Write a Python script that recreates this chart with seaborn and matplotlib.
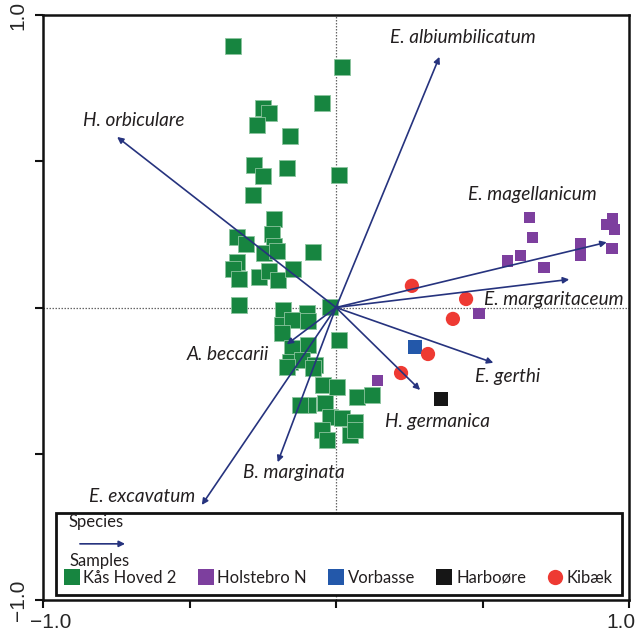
import matplotlib
matplotlib.use("Agg")
import matplotlib.pyplot as plt
import matplotlib.transforms as mtransforms
from matplotlib.lines import Line2D
from matplotlib.patches import Rectangle
import pandas as pd
import seaborn as sns

# ---- sample scores (axis 1, axis 2) per site ----
kas_x = [-0.352, 0.020, -0.048, -0.249, -0.229, -0.270, -0.157, -0.280, -0.167, -0.249,
         0.010, -0.283, -0.212, -0.338, -0.307, -0.218, -0.212, -0.246, -0.201, -0.078,
         -0.338, -0.352, -0.331, -0.263, -0.229, -0.198, -0.147, -0.331, -0.020, -0.181,
         -0.099, -0.184, -0.150, -0.096, -0.184, 0.010, -0.150, -0.096, -0.157, -0.116,
         -0.072, -0.167, -0.078, -0.044, 0.003, -0.096, -0.038, -0.020, 0.020, 0.065,
         0.072, 0.123, -0.048, -0.031, 0.048, 0.065, -0.123]
kas_y = [0.894, 0.823, 0.699, 0.682, 0.665, 0.624, 0.586, 0.487, 0.477, 0.450,
         0.453, 0.385, 0.303, 0.241, 0.217, 0.251, 0.210, 0.186, 0.193, 0.190,
         0.156, 0.132, 0.097, 0.104, 0.125, 0.094, 0.132, 0.009, 0.002, -0.009,
         -0.019, -0.060, -0.043, -0.046, -0.087, -0.111, -0.138, -0.128, -0.186, -0.179,
         -0.197, -0.203, -0.207, -0.265, -0.272, -0.333, -0.326, -0.374, -0.378, -0.391,
         -0.306, -0.299, -0.419, -0.453, -0.436, -0.419, -0.333]

hol_x = [0.659, 0.672, 0.631, 0.584, 0.710, 0.833, 0.833, 0.945, 0.925, 0.952, 0.942, 0.488, 0.143]
hol_y = [0.309, 0.238, 0.179, 0.159, 0.138, 0.217, 0.179, 0.303, 0.285, 0.268, 0.203, -0.022, -0.251]

vor_x = [0.270]
vor_y = [-0.135]

har_x = [0.358]
har_y = [-0.313]

kib_x = [0.259, 0.444, 0.399, 0.314, 0.222]
kib_y = [0.074, 0.029, -0.039, -0.159, -0.224]

# ---- species vectors ----
species = ["H. orbiculare", "E. albiumbilicatum", "E. magellanicum", "E. margaritaceum",
           "E. gerthi", "H. germanica", "A. beccarii", "B. marginata", "E. excavatum"]
species_x = [-0.747, 0.353, 0.924, 0.796, 0.537, 0.287, -0.168, -0.199, -0.458]
species_y = [0.583, 0.857, 0.223, 0.096, -0.189, -0.282, -0.126, -0.529, -0.675]

sites = ["Kås Hoved 2", "Holstebro N", "Vorbasse", "Harboøre", "Kibæk"]

# label placement relative to the arrow tip (pixels)
label_offsets = [(17, 16), (23, 19), (-74, 48), (-15, -20), (14, -14),
                 (17, -32), (-59, -10), (16, -10), (-60, 8)]

site_style = {
    "Kås Hoved 2": dict(color="#178540", marker="s", s=120),
    "Holstebro N": dict(color="#7d3f9e", marker="s", s=64),
    "Vorbasse":    dict(color="#2358aa", marker="s", s=95),
    "Harboøre":    dict(color="#161616", marker="s", s=95),
    "Kibæk":       dict(color="#ee3a33", marker="o", s=105),
}
edge_col = {"Kås Hoved 2": "#8cc49e"}

df = pd.concat([
    pd.DataFrame({"x": kas_x, "y": kas_y, "site": sites[0]}),
    pd.DataFrame({"x": hol_x, "y": hol_y, "site": sites[1]}),
    pd.DataFrame({"x": vor_x, "y": vor_y, "site": sites[2]}),
    pd.DataFrame({"x": har_x, "y": har_y, "site": sites[3]}),
    pd.DataFrame({"x": kib_x, "y": kib_y, "site": sites[4]}),
], ignore_index=True)

sns.set_style("ticks")
plt.rcParams["font.family"] = ["Lato", "DejaVu Sans"]

fig = plt.figure(figsize=(6.42, 6.35), dpi=100)
ax = fig.add_axes([43 / 642, 1 - 600 / 635, 586 / 642, 585 / 635])
ax.set_xlim(-1, 1)
ax.set_ylim(-1, 1)

# zero reference lines
ax.axhline(0, color="#666666", lw=0.9, ls=(0, (1.2, 1.2)), zorder=1)
ax.axvline(0, color="#666666", lw=0.9, ls=(0, (1.2, 1.2)), zorder=1)

for site in sites:
    st = site_style[site]
    sns.scatterplot(data=df[df["site"] == site], x="x", y="y", ax=ax,
                    color=st["color"], marker=st["marker"], s=st["s"],
                    edgecolor=edge_col.get(site, "none"), linewidth=0.6,
                    legend=False, zorder=2)

arrow_col = "#26337e"
for name, sx, sy, off in zip(species, species_x, species_y, label_offsets):
    ax.annotate("", xy=(sx, sy), xytext=(0, 0),
                arrowprops=dict(arrowstyle="-|>", color=arrow_col, lw=1.2,
                                mutation_scale=9, shrinkA=0, shrinkB=0),
                zorder=3)
    ax.annotate(name, xy=(sx, sy), xytext=off, textcoords="offset pixels",
                ha="center", va="center", fontsize=13.7, fontstyle="italic",
                color="#231f20", zorder=4)

# legend box
box = Rectangle((-0.956, -0.983), 1.932, 0.280, facecolor="white",
                edgecolor="#111111", lw=2.0, zorder=5)
ax.add_patch(box)
ax.text(0.043, 0.133, "Species", transform=ax.transAxes, fontsize=12,
        ha="left", va="center", color="#231f20", zorder=6)
ax.annotate("", xy=(0.140, 0.096), xytext=(0.063, 0.096),
            xycoords="axes fraction", textcoords="axes fraction",
            arrowprops=dict(arrowstyle="-|>", color=arrow_col, lw=1.2,
                            mutation_scale=9, shrinkA=0, shrinkB=0), zorder=6)
ax.text(0.046, 0.067, "Samples", transform=ax.transAxes, fontsize=12,
        ha="left", va="center", color="#231f20", zorder=6)

handles = [Line2D([], [], ls="none", marker=site_style[s]["marker"],
                  color=site_style[s]["color"], markersize=11,
                  markeredgewidth=0) for s in sites]
leg = ax.legend(handles, sites, ncol=5, loc="center left",
                bbox_to_anchor=(0.036, 0.038), frameon=False, fontsize=12,
                handlelength=0.9, handletextpad=0.25, columnspacing=1.3,
                borderpad=0, borderaxespad=0)
leg.set_zorder(7)
for t in leg.get_texts():
    t.set_color("#231f20")

# axes frame and ticks
for sp in ax.spines.values():
    sp.set_linewidth(1.8)
    sp.set_color("#111111")
ticks = [-1.0, -0.5, 0.0, 0.5, 1.0]
ax.set_xticks(ticks)
ax.set_yticks(ticks)
ax.set_xticklabels(["\u22121.0", "", "", "", "1.0"], fontfamily="Liberation Sans", fontsize=15)
ax.set_yticklabels(["\u22121.0", "", "", "", "1.0"], fontfamily="Liberation Sans", fontsize=15,
                   rotation=90, va="center")
ax.tick_params(direction="out", length=6, width=1.5, color="#111111", pad=3)
ax.tick_params(axis="y", pad=5)
ax.set_xlabel("")
ax.set_ylabel("")

# keep the outer x labels inside the canvas
xl = ax.get_xticklabels()
xl[0].set_transform(xl[0].get_transform() + mtransforms.ScaledTranslation(0.08, 0, fig.dpi_scale_trans))
xl[-1].set_transform(xl[-1].get_transform() + mtransforms.ScaledTranslation(-0.08, 0, fig.dpi_scale_trans))

fig.savefig("out.png", dpi=100)
